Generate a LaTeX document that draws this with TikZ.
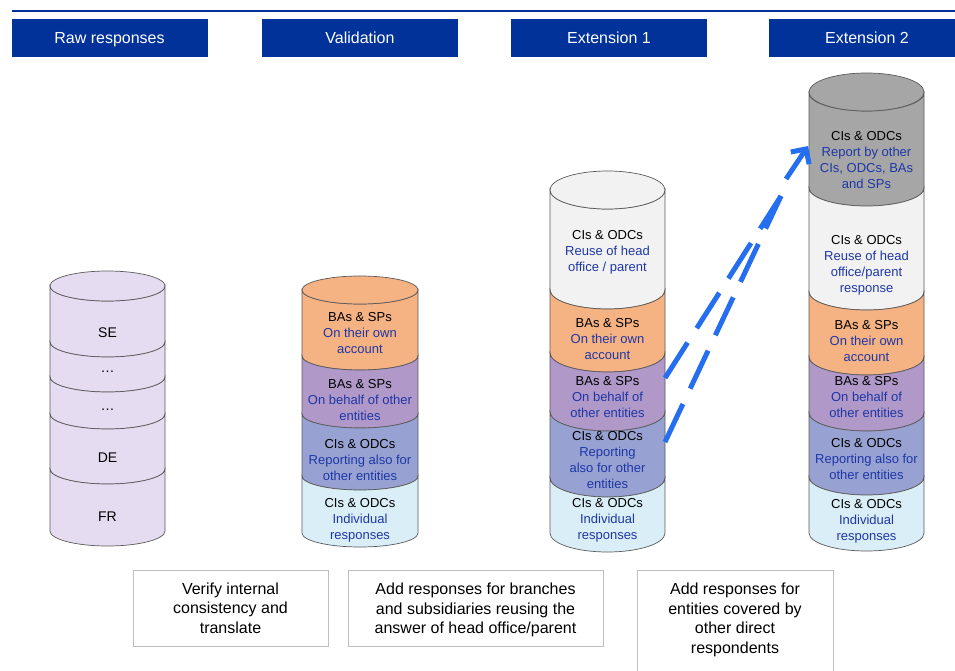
\documentclass[tikz,border=0pt]{standalone}
\usepackage{fontspec}
\setmainfont{Liberation Sans}
\usetikzlibrary{arrows.meta}

\definecolor{hdrblue}{RGB}{0,50,153}
\definecolor{txtblue}{RGB}{30,55,165}
\definecolor{edgegray}{RGB}{90,90,90}
\definecolor{notegray}{RGB}{190,190,190}
\definecolor{rawc}{RGB}{230,220,242}
\definecolor{orangec}{RGB}{245,178,131}
\definecolor{purplec}{RGB}{176,152,200}
\definecolor{bluepc}{RGB}{152,162,210}
\definecolor{lbluec}{RGB}{218,238,248}
\definecolor{whitec}{RGB}{242,242,242}
\definecolor{grayc}{RGB}{166,166,166}
\definecolor{arrowblue}{RGB}{38,110,240}

\begin{document}
\begin{tikzpicture}[
    x=1pt, y=-1pt,
    hdr/.style={fill=hdrblue, text=white, minimum width=196pt, minimum height=38pt,
        inner sep=0pt, text height=11.5pt, text depth=0pt, font=\fontsize{16}{19}\selectfont},
    lbl/.style={align=center, text=txtblue, inner sep=0pt, font=\fontsize{13}{16}\selectfont},
    layer/.style={draw=edgegray, line width=0.7pt},
    note/.style={draw=notegray, line width=0.7pt, align=center, inner sep=0pt,
        font=\fontsize{16}{19.5}\selectfont},
    flow/.style={line width=5pt, arrowblue, dash pattern=on 42pt off 17pt}
]
\useasboundingbox (0,0) rectangle (955,671);

% Title bar
\draw[hdrblue, line width=2.5pt] (12,11) -- (955,11);
\node[hdr] (hraw) at (109.5,38) {Raw responses};
\node[hdr] (hval) at (360,38) {Validation};
\node[hdr] (hext1) at (609,38) {Extension 1};
\node[hdr] (hext2) at (867,38) {Extension 2};

% Raw responses stack
\foreach \yt/\yb in {286/342, 342/377, 377/414, 414/469, 469/531} {
    \filldraw[layer, fill=rawc] (50,\yt) arc[start angle=180, end angle=360, x radius=57.5pt, y radius=15pt]
        -- (165,\yb) arc[start angle=0, end angle=-180, x radius=57.5pt, y radius=15pt] -- cycle;
}
\filldraw[layer, fill=rawc] (107.5,286) ellipse[x radius=57.5pt, y radius=15pt];
\node[lbl, text=black, font=\fontsize{14}{16}\selectfont] (rse) at (107.5,333) {SE};
\node[lbl, text=black, font=\fontsize{14}{16}\selectfont] (rd1) at (107.5,372) {\dots};
\node[lbl, text=black, font=\fontsize{14}{16}\selectfont] (rd2) at (107.5,410) {\dots};
\node[lbl, text=black, font=\fontsize{14}{16}\selectfont] (rde) at (107.5,458) {DE};
\node[lbl, text=black, font=\fontsize{14}{16}\selectfont] (rfr) at (107.5,517) {FR};

% Validation stack
\foreach \yt/\yb/\c in {290/356/orangec, 356/414/purplec, 414/476/bluepc, 476/533/lbluec} {
    \filldraw[layer, fill=\c] (302,\yt) arc[start angle=180, end angle=360, x radius=58pt, y radius=14pt]
        -- (418,\yb) arc[start angle=0, end angle=-180, x radius=58pt, y radius=14pt] -- cycle;
}
\filldraw[layer, fill=orangec] (360,290) ellipse[x radius=58pt, y radius=14pt];
\node[lbl] (vown) at (360,333) {{\color{black}BAs \& SPs}\\On their own\\account};
\node[lbl] (vbeh) at (360,400) {{\color{black}BAs \& SPs}\\On behalf of other\\entities};
\node[lbl] (vrep) at (360,460) {{\color{black}CIs \& ODCs}\\Reporting also for\\other entities};
\node[lbl] (vind) at (360,520) {{\color{black}CIs \& ODCs}\\Individual\\responses};

% Extension 1 stack
\foreach \yt/\yb/\c in {190/290/whitec, 290/353/orangec, 353/412/purplec, 412/478/bluepc, 478/533/lbluec} {
    \filldraw[layer, fill=\c] (550,\yt) arc[start angle=180, end angle=360, x radius=57.5pt, y radius=19pt]
        -- (665,\yb) arc[start angle=0, end angle=-180, x radius=57.5pt, y radius=19pt] -- cycle;
}
\filldraw[layer, fill=whitec] (607.5,190) ellipse[x radius=57.5pt, y radius=19pt];
\node[lbl] (ahead) at (607.5,252) {{\color{black}CIs \& ODCs}\\Reuse of head\\office / parent};
\node[lbl] (aown) at (607.5,339) {{\color{black}BAs \& SPs}\\On their own\\account};
\node[lbl] (abeh) at (607.5,397) {{\color{black}BAs \& SPs}\\On behalf of\\other entities};
\node[lbl] (arep) at (607.5,460) {{\color{black}CIs \& ODCs}\\Reporting\\also for other\\entities};
\node[lbl] (aind) at (607.5,520) {{\color{black}CIs \& ODCs}\\Individual\\responses};

% Extension 2 stack
\foreach \yt/\yb/\c in {93/188/grayc, 188/292/whitec, 292/357/orangec, 357/413/purplec, 413/477/bluepc, 477/533/lbluec} {
    \filldraw[layer, fill=\c] (809,\yt) arc[start angle=180, end angle=360, x radius=57.5pt, y radius=18pt]
        -- (924,\yb) arc[start angle=0, end angle=-180, x radius=57.5pt, y radius=18pt] -- cycle;
}
\filldraw[layer, fill=grayc] (866.5,92) ellipse[x radius=57.5pt, y radius=19pt];
\node[lbl] (bother) at (866.5,160) {{\color{black}CIs \& ODCs}\\Report by other\\CIs, ODCs, BAs\\and SPs};
\node[lbl] (bhead) at (866.5,265) {{\color{black}CIs \& ODCs}\\Reuse of head\\office/parent\\response};
\node[lbl] (bown) at (866.5,341) {{\color{black}BAs \& SPs}\\On their own\\account};
\node[lbl] (bbeh) at (866.5,397) {{\color{black}BAs \& SPs}\\On behalf of\\other entities};
\node[lbl] (brep) at (866.5,459) {{\color{black}CIs \& ODCs}\\Reporting also for\\other entities};
\node[lbl] (bind) at (866.5,521) {{\color{black}CIs \& ODCs}\\Individual\\responses};

% Arrows from Extension 1 to Extension 2
\coordinate (a1) at (665,378);
\coordinate (a2) at (665,442);
\coordinate (amid) at (781,196);
\coordinate (ashaft) at (786,179);
\coordinate (atip) at (808,146);
\draw[flow] (a1) -- (amid);
\draw[flow] (a2) -- (amid);
\draw[line width=5pt, arrowblue, -{Straight Barb[length=11pt, width=22pt]}] (ashaft) -- (atip);

% Step descriptions
\node[note, minimum width=195pt, minimum height=76pt] (nval) at (230.5,608)
    {Verify internal\\consistency and\\translate};
\node[note, minimum width=255pt, minimum height=76pt] (next1) at (475.5,608) {};
\node[note, draw=none] (next1t) at (475.5,610)
    {Add responses for branches\\and subsidiaries reusing the\\answer of head office/parent};
\node[note, minimum width=196pt, minimum height=120pt, anchor=north] (next2) at (735,570) {};
\node[note, draw=none] (next2t) at (735,620)
    {Add responses for\\entities covered by\\other direct\\respondents};

\end{tikzpicture}
\end{document}
